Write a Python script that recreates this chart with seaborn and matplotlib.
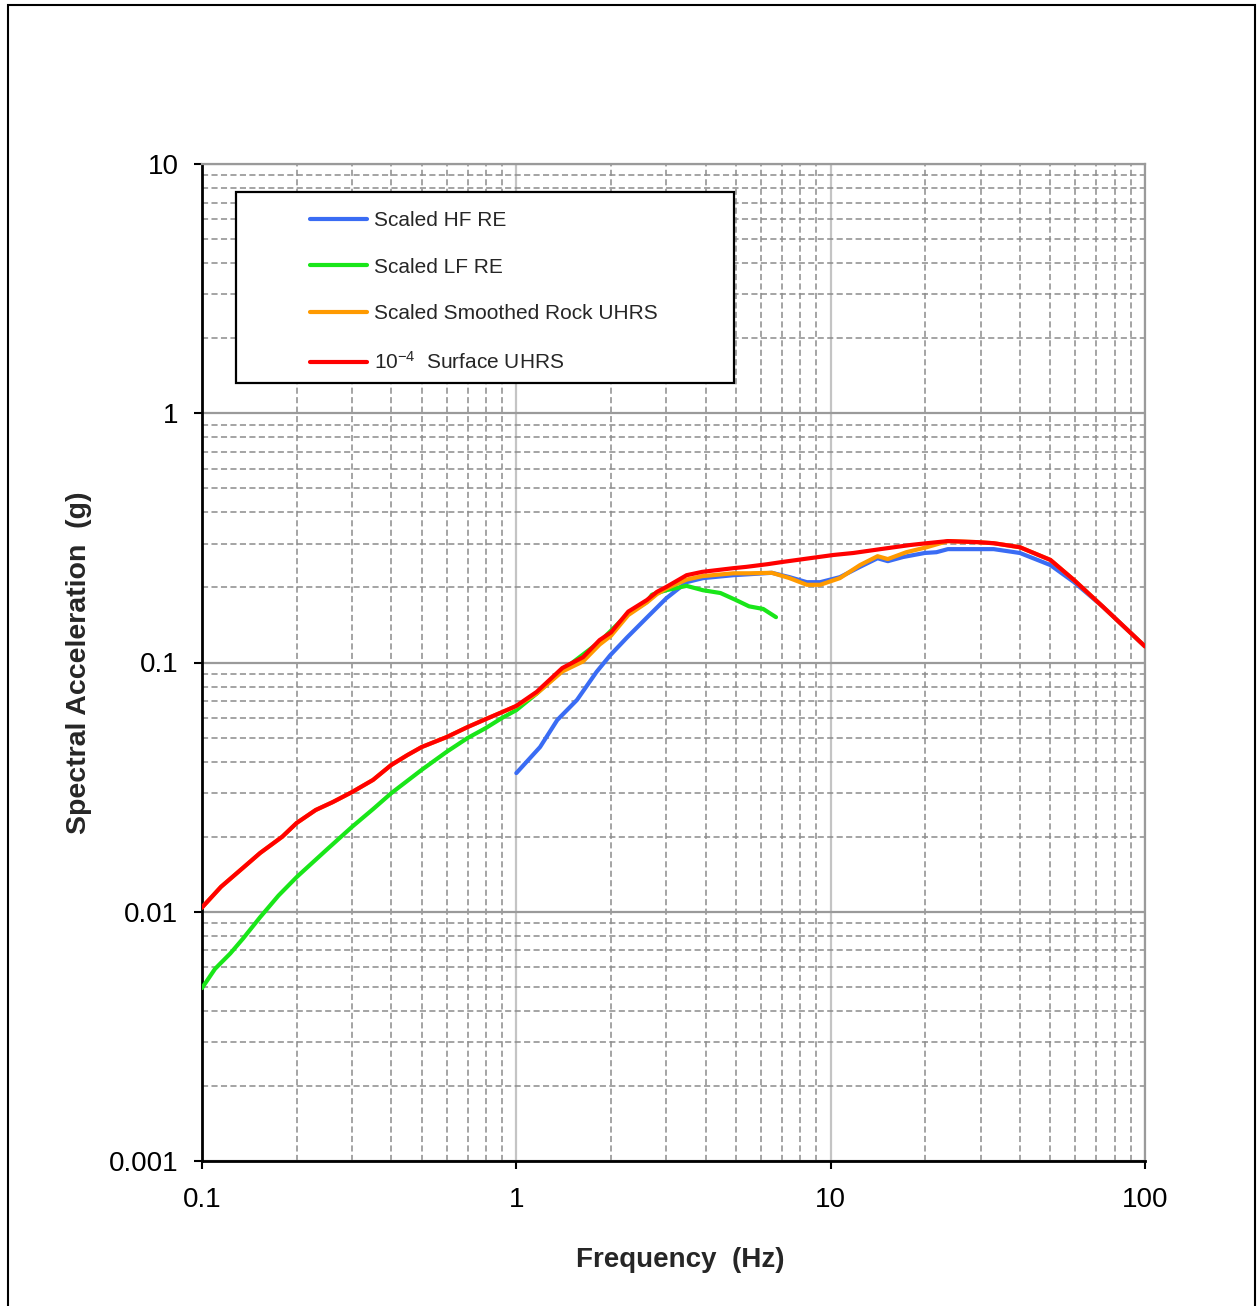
import numpy as np
import pandas as pd
import matplotlib
matplotlib.use("Agg")
import matplotlib.pyplot as plt
import seaborn as sns
from matplotlib.patches import Rectangle
from matplotlib.ticker import FixedLocator, FixedFormatter, LogLocator, NullFormatter

# ---------------- data ----------------
hf_f = [1.0, 1.19, 1.35, 1.56, 1.8, 1.99, 2.25, 2.61, 3.0, 3.48, 3.92, 4.9, 5.5, 6.5, 7.4,
        8.4, 9.26, 10.7, 12.4, 14.1, 15.2, 17.0, 19.9, 21.7, 23.6, 33, 40, 50, 59.5, 73.6, 100]
hf_sa = [0.036, 0.0458, 0.0588, 0.0708, 0.0917, 0.107, 0.126, 0.152, 0.181, 0.210, 0.218,
         0.224, 0.226, 0.229, 0.220, 0.210, 0.210, 0.220, 0.242, 0.262, 0.255, 0.265, 0.275,
         0.277, 0.285, 0.285, 0.275, 0.246, 0.210, 0.167, 0.116]

lf_f = [0.1, 0.11, 0.123, 0.135, 0.153, 0.175, 0.2, 0.25, 0.3, 0.35, 0.4, 0.5, 0.6, 0.7,
        0.8, 0.9, 1.0, 1.16, 1.4, 1.84, 2.27, 2.6, 2.7, 3.0, 3.48, 3.92, 4.46, 5.0, 5.5,
        6.1, 6.7]
lf_sa = [0.00494, 0.0059, 0.0068, 0.0078, 0.0095, 0.0116, 0.01377, 0.0178, 0.0219, 0.0258,
         0.0299, 0.0371, 0.0438, 0.0498, 0.0546, 0.0599, 0.0644, 0.075, 0.093, 0.121, 0.157,
         0.175, 0.187, 0.195, 0.203, 0.195, 0.190, 0.178, 0.168, 0.164, 0.152]

rock_f = [0.1, 0.115, 0.135, 0.153, 0.18, 0.2, 0.23, 0.26, 0.3, 0.35, 0.4, 0.45, 0.5, 0.6,
          0.7, 0.8, 0.9, 1.0, 1.16, 1.4, 1.63, 1.84, 2.0, 2.27, 2.6, 2.8, 3.0, 3.48, 3.9,
          4.9, 5.5, 6.5, 7.4, 8.4, 9.26, 10.7, 12.4, 14.1, 15.2, 17.4, 20.2, 23.6, 29.3,
          33, 40, 50, 59.5, 73.6, 100]
rock_sa = [0.0104, 0.0126, 0.0150, 0.0172, 0.0200, 0.0227, 0.0256, 0.0275, 0.0302, 0.0338,
           0.0388, 0.0425, 0.0458, 0.0502, 0.0551, 0.0593, 0.0632, 0.0668, 0.075, 0.092,
           0.101, 0.118, 0.128, 0.155, 0.174, 0.188, 0.198, 0.215, 0.222, 0.228, 0.228,
           0.229, 0.218, 0.205, 0.205, 0.218, 0.246, 0.267, 0.260, 0.277, 0.290, 0.307,
           0.304, 0.301, 0.290, 0.258, 0.214, 0.167, 0.116]

surf_f = [0.1, 0.115, 0.135, 0.153, 0.18, 0.2, 0.23, 0.26, 0.3, 0.35, 0.4, 0.45, 0.5, 0.6,
          0.7, 0.8, 0.9, 1.0, 1.16, 1.4, 1.63, 1.84, 2.0, 2.27, 2.6, 2.8, 3.0, 3.48, 3.9,
          4.9, 5.4, 6.3, 7.0, 8.2, 10.2, 11.8, 14.4, 17.9, 20.2, 23.6, 29.3, 33, 40, 50,
          59.5, 73.6, 100]
surf_sa = [0.0104, 0.0126, 0.0150, 0.0172, 0.0200, 0.0227, 0.0256, 0.0275, 0.0302, 0.0338,
           0.0388, 0.0425, 0.0458, 0.0502, 0.0551, 0.0593, 0.0632, 0.0670, 0.0762, 0.095,
           0.105, 0.123, 0.132, 0.160, 0.178, 0.192, 0.201, 0.224, 0.231, 0.239, 0.242,
           0.248, 0.253, 0.260, 0.270, 0.275, 0.285, 0.296, 0.301, 0.307, 0.304, 0.301,
           0.290, 0.258, 0.214, 0.167, 0.116]

series_names = ["Scaled HF RE", "Scaled LF RE", "Scaled Smoothed Rock UHRS",
                r"10$^{-4}$  Surface UHRS"]
series_colors = ["#3a6cf4", "#19e619", "#ff9a00", "#ff0000"]

x_ticks = [0.1, 1, 10, 100]
x_tick_labels = ["0.1", "1", "10", "100"]
y_ticks = [0.001, 0.01, 0.1, 1, 10]
y_tick_labels = ["0.001", "0.01", "0.1", "1", "10"]

# ---------------- figure ----------------
sns.set_theme(style="white")
plt.rcParams["font.family"] = ["Liberation Sans", "DejaVu Sans"]
plt.rcParams["mathtext.fontset"] = "custom"
plt.rcParams["mathtext.rm"] = "Liberation Sans"
plt.rcParams["mathtext.it"] = "Liberation Sans:italic"
plt.rcParams["mathtext.bf"] = "Liberation Sans:bold"

frames = []
for name, f, sa in zip(series_names, [hf_f, lf_f, rock_f, surf_f],
                       [hf_sa, lf_sa, rock_sa, surf_sa]):
    frames.append(pd.DataFrame({"f": f, "sa": sa, "series": name}))
df = pd.concat(frames, ignore_index=True)

fig = plt.figure(figsize=(12.58, 13.06), dpi=100)
ax = fig.add_axes([202 / 1258, 1 - 1161 / 1306, 943 / 1258, 997 / 1306])

sns.lineplot(data=df, x="f", y="sa", hue="series", hue_order=series_names,
             palette=dict(zip(series_names, series_colors)), estimator=None,
             sort=False, linewidth=3.0, ax=ax, zorder=3)

ax.set_xscale("log")
ax.set_yscale("log")
ax.set_xlim(0.1, 100)
ax.set_ylim(0.001, 10)

ax.xaxis.set_major_locator(FixedLocator(x_ticks))
ax.xaxis.set_major_formatter(FixedFormatter(x_tick_labels))
ax.yaxis.set_major_locator(FixedLocator(y_ticks))
ax.yaxis.set_major_formatter(FixedFormatter(y_tick_labels))
ax.xaxis.set_minor_locator(LogLocator(base=10, subs=np.arange(2, 10)))
ax.yaxis.set_minor_locator(LogLocator(base=10, subs=np.arange(2, 10)))
ax.xaxis.set_minor_formatter(NullFormatter())
ax.yaxis.set_minor_formatter(NullFormatter())

ax.tick_params(axis="both", which="major", direction="out", length=6, width=1.5,
               color="black", labelsize=20, labelcolor="black", pad=13,
               bottom=True, left=True)
ax.tick_params(axis="y", which="major", pad=11)
ax.tick_params(axis="both", which="minor", length=0)

ax.grid(which="minor", axis="both", color="#8c8c8c", linestyle=(0, (4, 2.2)),
        linewidth=1.1, zorder=0)
ax.grid(which="major", axis="y", color="#9a9a9a", linestyle="-", linewidth=1.6, zorder=0)
ax.grid(which="major", axis="x", color="#c4c4c4", linestyle="-", linewidth=1.6, zorder=0)
ax.set_axisbelow(True)

for side in ["left", "bottom"]:
    ax.spines[side].set_color("black")
    ax.spines[side].set_linewidth(2.0)
for side in ["top", "right"]:
    ax.spines[side].set_color("#9a9a9a")
    ax.spines[side].set_linewidth(1.6)

ax.set_xlabel("Frequency  (Hz)", fontsize=20, fontweight="bold", labelpad=24)
ax.xaxis.set_label_coords((680 - 202) / 943, -0.06, transform=None) if False else None
ax.set_ylabel("Spectral Acceleration  (g)", fontsize=20.5, fontweight="bold", labelpad=12)

fig.canvas.draw()
xl = ax.xaxis.label
xl.set_x((680 - 202) / 943)

# legend box
x0 = (236 - 202) / 943
x1 = (734 - 202) / 943
y_top = (1161 - 192) / 997
y_bot = (1161 - 383) / 997
box = Rectangle((x0, y_bot), x1 - x0, y_top - y_bot, transform=ax.transAxes,
                facecolor="white", edgecolor="black", linewidth=1.6, zorder=4)
ax.add_patch(box)

handles, labels = ax.get_legend_handles_labels()
leg = ax.legend(handles, labels, loc="upper left",
                bbox_to_anchor=((310 - 202) / 943, (1161 - 211) / 997),
                frameon=False, fontsize=15, handlelength=2.75, handletextpad=0.3,
                labelspacing=1.33, borderpad=0, borderaxespad=0)
leg.set_zorder(5)
for line in leg.get_lines():
    line.set_linewidth(3.0)

# outer border
fig.patches.append(Rectangle((8 / 1258, -0.01), (1255 - 8) / 1258, 1.01 - 5 / 1306,
                             transform=fig.transFigure, fill=False,
                             edgecolor="black", linewidth=1.5))

fig.savefig("out.png", dpi=100)
